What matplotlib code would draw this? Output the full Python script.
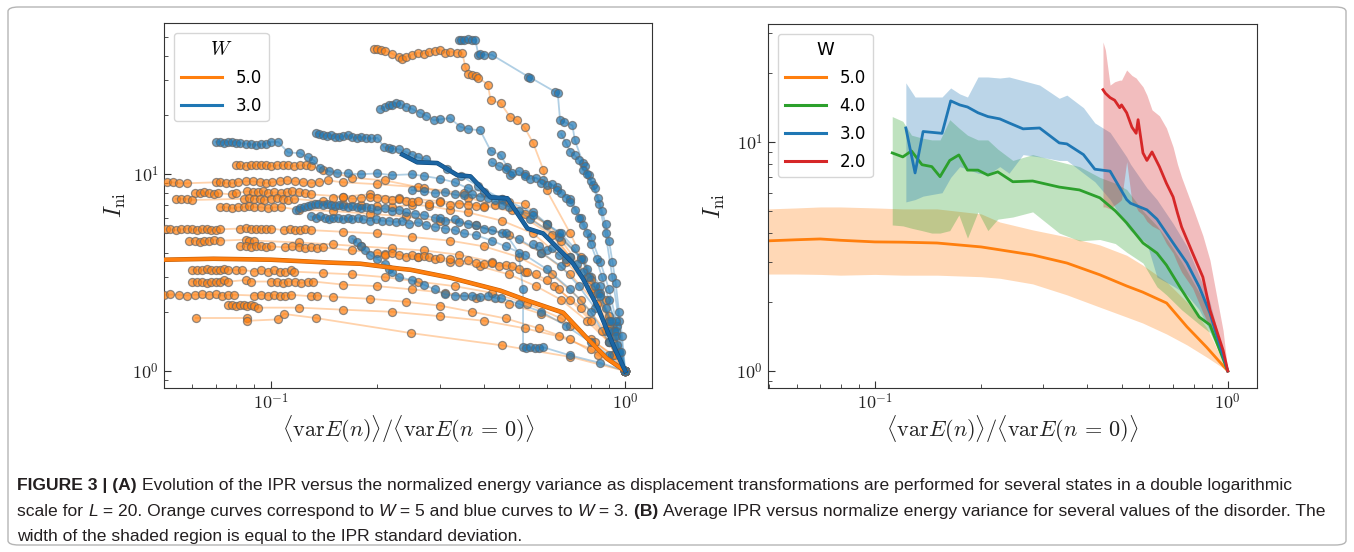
import numpy as np
import matplotlib
matplotlib.use("Agg")
import matplotlib.pyplot as plt
import matplotlib.patheffects as pe
from matplotlib import ticker, font_manager
from matplotlib.lines import Line2D
from matplotlib.patches import FancyBboxPatch
from matplotlib.transforms import IdentityTransform

plt.rcParams["mathtext.fontset"] = "cm"

# --- Panel (A): individual trajectories, W = 5 (orange) ---
w5_a = ([0.195, 0.20, 0.205, 0.21, 0.22, 0.23, 0.235, 0.24, 0.25, 0.26, 0.27, 0.28, 0.29, 0.30, 0.31, 0.32,
         0.335, 0.347, 0.354, 0.36, 0.37, 0.38, 0.385, 0.41, 0.417, 0.445, 0.474, 0.495, 0.52, 0.55, 0.588,
         0.60, 0.70, 0.80, 0.90, 1.0],
        [43.5, 43.5, 43, 42.5, 41, 39.5, 38.6, 39.5, 40.5, 41.5, 41, 42, 42.5, 43, 41.5, 42,
         41.5, 41.5, 35, 32.5, 32, 31.5, 31, 28.5, 23.8, 23, 19.5, 18.8, 17.3, 14.4, 10.5,
         8.3, 5.0, 3.0, 1.8, 1.0])
w5_b = ([0.051, 0.053, 0.055, 0.058, 0.070, 0.072, 0.075, 0.078, 0.081, 0.085, 0.089, 0.093, 0.097, 0.101,
         0.106, 0.111, 0.117, 0.123, 0.13, 0.137, 0.145, 0.16, 0.2, 0.26, 0.35, 0.46, 0.6, 0.75, 0.88, 1.0],
        [9.1, 9.1, 9.0, 9.0, 9.1, 9.1, 9.0, 9.0, 9.1, 9.2, 9.2, 9.1, 9.0, 9.1,
         9.2, 9.3, 9.2, 9.1, 9.0, 9.1, 9.3, 9.1, 8.9, 8.6, 8.0, 7.3, 5.6, 3.8, 2.3, 1.0])
w5_c = ([0.080, 0.082, 0.085, 0.088, 0.091, 0.094, 0.097, 0.100, 0.104, 0.108, 0.112, 0.116, 0.121, 0.126,
         0.130, 0.14, 0.17, 0.21, 0.27, 0.36, 0.48, 0.62, 0.78, 0.9, 1.0],
        [11.1, 11.1, 11.0, 11.1, 11.1, 11.2, 11.1, 11.0, 11.1, 11.1, 11.2, 11.0, 11.1, 11.1,
         11.0, 10.5, 9.6, 9.3, 8.5, 7.6, 6.6, 4.9, 3.0, 1.9, 1.0])
w5_d = ([0.061, 0.063, 0.065, 0.067, 0.069, 0.071, 0.078, 0.080, 0.086, 0.089, 0.092, 0.095, 0.098, 0.102,
         0.107, 0.111, 0.115, 0.12, 0.125, 0.13, 0.16, 0.19, 0.23, 0.3, 0.4, 0.52, 0.66, 0.8, 0.92, 1.0],
        [8.0, 8.0, 8.1, 8.0, 7.9, 8.0, 7.9, 8.0, 8.2, 8.1, 8.1, 8.2, 8.0, 8.1,
         8.0, 8.1, 8.2, 8.1, 8.0, 7.9, 7.7, 7.9, 7.6, 7.3, 6.9, 6.3, 4.6, 2.9, 1.7, 1.0])
w5_e = ([0.054, 0.056, 0.058, 0.060, 0.084, 0.087, 0.09, 0.093, 0.096, 0.1, 0.104, 0.108, 0.112, 0.116,
         0.14, 0.16, 0.18, 0.2, 0.22, 0.25, 0.28, 0.32, 0.36, 0.45, 0.55, 0.68, 0.82, 0.93, 1.0],
        [7.5, 7.5, 7.5, 7.4, 7.5, 7.6, 7.5, 7.5, 7.4, 7.5, 7.6, 7.5, 7.4, 7.5,
         7.3, 7.1, 7.0, 6.9, 6.8, 7.0, 6.9, 6.6, 6.4, 5.8, 5.0, 3.6, 2.5, 1.6, 1.0])
w5_f = ([0.072, 0.075, 0.078, 0.081, 0.084, 0.087, 0.09, 0.094, 0.098, 0.102, 0.107, 0.12, 0.15, 0.19,
         0.24, 0.3, 0.38, 0.47, 0.58, 0.7, 0.83, 0.93, 1.0],
        [6.8, 6.8, 6.7, 6.8, 6.8, 6.9, 6.8, 6.8, 6.7, 6.8, 6.8, 6.6, 6.5, 6.3,
         6.1, 5.8, 5.5, 4.9, 4.0, 3.1, 2.2, 1.5, 1.0])
w5_g = ([0.0505, 0.052, 0.054, 0.056, 0.058, 0.06, 0.062, 0.064, 0.066, 0.068, 0.070, 0.072, 0.082, 0.085,
         0.088, 0.091, 0.094, 0.097, 0.1, 0.109, 0.113, 0.117, 0.121, 0.125, 0.13, 0.16, 0.2, 0.25, 0.32,
         0.4, 0.5, 0.62, 0.75, 0.88, 1.0],
        [5.25, 5.25, 5.2, 5.25, 5.3, 5.25, 5.2, 5.25, 5.25, 5.2, 5.2, 5.25, 5.3, 5.35,
         5.3, 5.3, 5.25, 5.3, 5.3, 5.2, 5.25, 5.2, 5.2, 5.25, 5.2, 5.1, 5.0, 4.8, 4.6,
         4.3, 3.8, 3.1, 2.3, 1.6, 1.0])
w5_h = ([0.059, 0.061, 0.063, 0.065, 0.067, 0.069, 0.072, 0.085, 0.087, 0.09, 0.12, 0.15, 0.18, 0.22,
         0.27, 0.34, 0.42, 0.52, 0.63, 0.75, 0.86, 1.0],
        [4.6, 4.6, 4.55, 4.6, 4.6, 4.65, 4.6, 4.65, 4.6, 4.6, 4.5, 4.4, 4.3, 4.2,
         4.1, 3.9, 3.6, 3.2, 2.7, 2.1, 1.6, 1.0])
w5_i = ([0.082, 0.085, 0.088, 0.091, 0.094, 0.097, 0.1, 0.11, 0.115, 0.12, 0.125, 0.13, 0.135, 0.14,
         0.17, 0.21, 0.26, 0.32, 0.39, 0.47, 0.56, 0.66, 0.78, 0.9, 1.0],
        [4.3, 4.3, 4.25, 4.3, 4.3, 4.25, 4.3, 4.25, 4.3, 4.25, 4.2, 4.25, 4.2, 4.25,
         4.1, 3.95, 3.8, 3.6, 3.4, 3.1, 2.7, 2.3, 1.8, 1.4, 1.0])
w5_j = ([0.060, 0.062, 0.064, 0.066, 0.068, 0.070, 0.072, 0.074, 0.076, 0.080, 0.083, 0.090, 0.094, 0.098,
         0.102, 0.106, 0.110, 0.114, 0.116, 0.14, 0.17, 0.21, 0.26, 0.33, 0.42, 0.53, 0.66, 0.8, 0.92, 1.0],
        [3.27, 3.27, 3.25, 3.3, 3.27, 3.25, 3.27, 3.3, 3.27, 3.25, 3.27, 3.2, 3.25, 3.2,
         3.25, 3.2, 3.2, 3.25, 3.2, 3.15, 3.1, 3.0, 2.85, 2.7, 2.5, 2.2, 1.85, 1.45, 1.2, 1.0])
w5_k = ([0.060, 0.062, 0.064, 0.066, 0.068, 0.070, 0.072, 0.074, 0.076, 0.085, 0.088, 0.100, 0.104, 0.108,
         0.112, 0.117, 0.122, 0.127, 0.132, 0.16, 0.2, 0.25, 0.31, 0.38, 0.47, 0.58, 0.7, 0.82, 0.93, 1.0],
        [2.85, 2.85, 2.85, 2.8, 2.85, 2.85, 2.85, 2.9, 2.85, 2.9, 2.85, 2.85, 2.85, 2.8,
         2.85, 2.85, 2.8, 2.85, 2.85, 2.75, 2.7, 2.6, 2.5, 2.35, 2.2, 1.95, 1.7, 1.4, 1.2, 1.0])
w5_l = ([0.050, 0.052, 0.055, 0.058, 0.061, 0.064, 0.067, 0.070, 0.073, 0.076, 0.079, 0.090, 0.094, 0.098,
         0.102, 0.106, 0.110, 0.114, 0.130, 0.135, 0.15, 0.19, 0.24, 0.3, 0.37, 0.46, 0.57, 0.7, 0.84, 1.0],
        [2.44, 2.45, 2.44, 2.42, 2.44, 2.45, 2.44, 2.45, 2.42, 2.44, 2.44, 2.42, 2.44, 2.42,
         2.44, 2.42, 2.42, 2.44, 2.4, 2.42, 2.38, 2.33, 2.25, 2.15, 2.0, 1.85, 1.65, 1.45, 1.2, 1.0])
w5_m = ([0.076, 0.078, 0.080, 0.082, 0.084, 0.086, 0.088, 0.090, 0.092, 0.12, 0.16, 0.22, 0.3, 0.4, 0.52,
         0.65, 0.8, 1.0],
        [2.17, 2.17, 2.15, 2.17, 2.17, 2.15, 2.17, 2.15, 2.1, 2.1, 2.05, 2.0, 1.9, 1.8, 1.65,
         1.5, 1.3, 1.0])
w5_n = ([0.0615, 0.0856, 0.0856, 0.105, 0.109, 0.134, 0.248, 0.45, 0.7, 1.0],
        [1.86, 1.86, 1.8, 1.83, 1.95, 1.86, 1.56, 1.35, 1.18, 1.0])
w5_o = ([0.15, 0.16, 0.17, 0.18, 0.19, 0.2, 0.21, 0.22, 0.23, 0.24, 0.25, 0.26, 0.28, 0.3, 0.32, 0.34,
         0.36, 0.38, 0.4, 0.43, 0.47, 0.52, 0.6, 0.7, 0.8, 0.9, 1.0],
        [7.6, 7.7, 7.5, 7.6, 7.7, 7.6, 7.5, 7.4, 7.5, 7.3, 7.2, 7.3, 7.1, 7.2, 7.0, 7.1,
         7.0, 6.9, 6.8, 7.0, 7.2, 7.1, 5.5, 3.8, 2.6, 1.7, 1.0])
w5_p = ([0.2, 0.21, 0.22, 0.23, 0.24, 0.25, 0.26, 0.27, 0.28, 0.29, 0.3, 0.32, 0.34, 0.36, 0.38, 0.4,
         0.42, 0.44, 0.46, 0.48, 0.5, 0.53, 0.56, 0.6, 0.65, 0.7, 0.8, 0.9, 1.0],
        [4.0, 3.9, 4.0, 3.9, 3.8, 3.9, 3.8, 3.85, 3.8, 3.7, 3.75, 3.7, 3.6, 3.65, 3.55, 3.5,
         3.55, 3.4, 3.45, 3.4, 3.3, 3.2, 3.1, 2.9, 2.6, 2.3, 1.8, 1.4, 1.0])
w5_runs = [w5_a, w5_b, w5_c, w5_d, w5_e, w5_f, w5_g, w5_h, w5_i, w5_j, w5_k, w5_l, w5_m, w5_n, w5_o, w5_p]

# --- Panel (A): individual trajectories, W = 3 (blue) ---
w3_a = ([0.339, 0.345, 0.352, 0.36, 0.37, 0.378, 0.385, 0.39, 0.40, 0.42, 0.533, 0.54, 0.635, 0.645, 0.655,
         0.67, 0.71, 0.72, 0.76, 0.77, 0.79, 0.81, 0.843, 0.88, 0.92, 0.96, 1.0],
        [48.2, 48.2, 48.2, 48.5, 48.2, 48.2, 40.5, 41, 40.5, 40.5, 31.3, 31, 26.2, 26, 18.8,
         18.5, 17.7, 15, 11.4, 11, 9.9, 8.8, 7.1, 5.0, 3.0, 1.8, 1.0])
w3_b = ([0.204, 0.21, 0.215, 0.22, 0.225, 0.232, 0.24, 0.25, 0.264, 0.275, 0.288, 0.30, 0.32, 0.343, 0.36,
         0.39, 0.417, 0.445, 0.465, 0.474, 0.52, 0.588, 0.64, 0.70, 0.75, 0.8, 0.85, 0.9, 0.95, 1.0],
        [21.5, 22, 22.5, 22.5, 23, 22.8, 22, 21.5, 20.5, 19.8, 18.8, 19, 19.3, 17.4, 17,
         16.7, 13.2, 12.5, 10.9, 9.9, 10, 9.3, 8.6, 7.5, 6.0, 4.8, 3.6, 2.6, 1.7, 1.0])
w3_c = ([0.134, 0.137, 0.14, 0.144, 0.148, 0.152, 0.156, 0.16, 0.165, 0.17, 0.175, 0.18, 0.186, 0.192, 0.2,
         0.209, 0.215, 0.22, 0.23, 0.24, 0.25, 0.26, 0.275, 0.315, 0.345, 0.385, 0.45, 0.54, 0.65, 0.76,
         0.85, 0.94, 1.0],
        [16.2, 16.0, 15.8, 15.6, 15.8, 15.5, 15.4, 15.6, 15.8, 15.4, 15.3, 15.5, 15.3, 15.2, 15.3,
         13.7, 13.6, 13.5, 13.4, 13.0, 12.6, 12.2, 11.9, 10.6, 9.8, 8.7, 7.45, 5.9, 4.8, 3.7,
         2.7, 1.8, 1.0])
w3_d = ([0.070, 0.072, 0.074, 0.076, 0.078, 0.080, 0.082, 0.085, 0.088, 0.091, 0.094, 0.097, 0.100, 0.105,
         0.112, 0.121, 0.127, 0.132, 0.138, 0.146, 0.154, 0.165, 0.18, 0.2, 0.22, 0.25, 0.27, 0.3, 0.33,
         0.36, 0.4, 0.45, 0.55, 0.65, 0.75, 0.85, 0.93, 1.0],
        [14.6, 14.6, 14.5, 14.6, 14.6, 14.5, 14.4, 14.3, 14.2, 14.1, 14.2, 14.3, 14.6, 14.6,
         12.9, 12.8, 12.2, 11.8, 10.8, 10.4, 10.2, 10.1, 10.0, 10.1, 9.9, 10.0, 9.8, 9.5, 9.1,
         8.5, 8.1, 7.5, 6.4, 5.0, 3.7, 2.5, 1.6, 1.0])
w3_e = ([0.118, 0.121, 0.124, 0.127, 0.13, 0.133, 0.136, 0.14, 0.144, 0.148, 0.152, 0.156, 0.16, 0.165,
         0.17, 0.175, 0.18, 0.186, 0.192, 0.2, 0.21, 0.22, 0.23, 0.24, 0.255, 0.27, 0.29, 0.31, 0.33,
         0.36, 0.4, 0.45, 0.5, 0.58, 0.66, 0.74, 0.82, 0.9, 0.96, 1.0],
        [6.6, 6.7, 6.8, 6.9, 7.0, 7.1, 7.1, 7.0, 7.1, 7.0, 6.9, 7.0, 6.9, 6.8,
         6.9, 6.8, 6.7, 6.8, 6.7, 6.6, 6.7, 6.5, 6.6, 6.4, 6.3, 6.2, 6.0, 5.8, 5.9,
         5.6, 5.3, 5.0, 4.7, 4.0, 3.4, 2.7, 2.1, 1.6, 1.25, 1.0])
w3_f = ([0.13, 0.134, 0.138, 0.142, 0.146, 0.15, 0.155, 0.16, 0.165, 0.17, 0.176, 0.182, 0.19, 0.198,
         0.206, 0.215, 0.225, 0.235, 0.245, 0.26, 0.275, 0.29, 0.31, 0.33, 0.35, 0.38, 0.42, 0.46, 0.52,
         0.6, 0.7, 0.8, 0.9, 1.0],
        [6.1, 6.0, 6.1, 6.0, 5.9, 6.0, 6.0, 5.9, 6.0, 5.9, 6.0, 5.9, 5.8, 5.9,
         5.8, 5.8, 5.7, 5.8, 5.6, 5.7, 5.5, 5.4, 5.3, 5.2, 5.0, 4.9, 4.6, 4.3, 3.9,
         3.3, 2.6, 2.0, 1.4, 1.0])
w3_g = ([0.17, 0.175, 0.18, 0.185, 0.19, 0.2, 0.21, 0.215, 0.22, 0.23, 0.25, 0.27, 0.29, 0.31, 0.33,
         0.35, 0.37, 0.39, 0.41, 0.43, 0.445, 0.5, 0.58, 0.68, 0.8, 0.9, 1.0],
        [4.7, 4.5, 4.3, 4.1, 3.9, 3.7, 3.5, 3.3, 3.2, 3.0, 2.9, 2.75, 2.6, 2.45, 2.42,
         2.4, 2.42, 2.38, 2.4, 2.35, 2.35, 2.2, 2.0, 1.7, 1.4, 1.2, 1.0])
w3_h = ([0.3, 0.34, 0.38, 0.42, 0.46, 0.5, 0.515, 0.515, 0.525, 0.54, 0.555, 0.57, 0.588, 0.7, 0.85, 1.0],
        [6.0, 5.7, 5.5, 5.2, 5.0, 4.0, 2.6, 1.32, 1.31, 1.32, 1.31, 1.31, 1.32, 1.2, 1.1, 1.0])
w3_j = ([0.25, 0.27, 0.29, 0.31, 0.33, 0.35, 0.37, 0.39, 0.41, 0.43, 0.45, 0.47, 0.5, 0.55, 0.6, 0.66,
         0.72, 0.78, 0.84, 0.9, 0.95, 1.0],
        [8.3, 8.2, 8.0, 8.1, 7.9, 7.8, 7.9, 7.7, 7.6, 7.4, 7.0, 6.8, 6.5, 6.2, 5.6, 5.0,
         4.2, 3.3, 2.5, 1.8, 1.35, 1.0])
w3_k = ([0.42, 0.44, 0.46, 0.48, 0.5, 0.52, 0.54, 0.56, 0.58, 0.6, 0.62, 0.64, 0.66, 0.68, 0.7, 0.72,
         0.74, 0.76, 0.78, 0.8, 0.83, 0.86, 0.9, 0.94, 1.0],
        [11.5, 11.0, 10.6, 10.2, 10.4, 9.8, 9.5, 9.6, 9.0, 8.8, 8.9, 8.3, 8.0, 7.6, 7.2, 6.6,
         6.0, 5.5, 5.0, 4.4, 3.7, 3.0, 2.3, 1.6, 1.0])
w3_l = ([0.55, 0.57, 0.6, 0.62, 0.65, 0.68, 0.7, 0.73, 0.76, 0.79, 0.82, 0.85, 0.88, 0.91, 0.94, 0.97, 1.0],
        [4.4, 4.3, 4.1, 4.2, 3.9, 3.7, 3.8, 3.5, 3.2, 3.0, 2.7, 2.4, 2.1, 1.8, 1.5, 1.25, 1.0])
w3_m = ([0.66, 0.68, 0.7, 0.72, 0.74, 0.76, 0.78, 0.8, 0.82, 0.84, 0.86, 0.88, 0.9, 0.92, 0.94, 0.96,
         0.98, 1.0],
        [16, 14.5, 13, 12.5, 11.8, 10.5, 10, 9.2, 8.5, 7.6, 6.5, 5.6, 4.6, 3.6, 2.8, 2.0, 1.5, 1.0])
w3_runs = [w3_a, w3_b, w3_c, w3_d, w3_e, w3_f, w3_g, w3_h, w3_j, w3_k, w3_l, w3_m]

# --- Panel (A): averaged curves ---
w5_mean_x = [0.0506, 0.069, 0.1, 0.145, 0.179, 0.232, 0.248, 0.321, 0.445, 0.53, 0.668, 0.78, 0.887, 1.0]
w5_mean_y = [3.68, 3.72, 3.68, 3.56, 3.51, 3.31, 3.27, 2.98, 2.56, 2.28, 1.98, 1.47, 1.16, 1.0]
w3_mean_x = [0.235, 0.259, 0.295, 0.336, 0.366, 0.417, 0.465, 0.49, 0.53, 0.587, 0.71, 0.76, 0.838, 0.89, 0.94, 1.0]
w3_mean_y = [12.6, 11.5, 11.4, 9.9, 9.75, 7.63, 7.55, 6.55, 5.3, 5.0, 3.55, 2.95, 2.1, 1.6, 1.27, 1.0]

# --- Panel (B): average IPR with +/- std band ---
x_w5 = [0.05, 0.06, 0.07, 0.08, 0.1, 0.12, 0.15, 0.2, 0.226, 0.28, 0.35, 0.434, 0.517, 0.574, 0.671, 0.766, 0.871, 1.0]
ipr_w5 = [3.70, 3.74, 3.77, 3.72, 3.66, 3.65, 3.62, 3.48, 3.38, 3.21, 2.96, 2.63, 2.35, 2.21, 1.98, 1.56, 1.27, 1.0]
hi_w5 = [5.1, 5.15, 5.2, 5.2, 5.15, 5.1, 5.1, 4.85, 4.47, 4.13, 3.85, 3.55, 3.2, 2.9, 2.45, 2.0, 1.55, 1.0]
lo_w5 = [2.65, 2.65, 2.64, 2.62, 2.64, 2.62, 2.62, 2.58, 2.54, 2.4, 2.15, 1.9, 1.72, 1.62, 1.45, 1.3, 1.15, 1.0]

x_w4 = [0.112, 0.120, 0.127, 0.136, 0.145, 0.153, 0.163, 0.173, 0.183, 0.196, 0.209, 0.223, 0.246, 0.28,
        0.333, 0.38, 0.434, 0.48, 0.517, 0.575, 0.63, 0.67, 0.74, 0.83, 0.89, 1.0]
ipr_w4 = [8.95, 8.6, 9.13, 7.95, 7.8, 7.05, 8.3, 8.77, 7.53, 7.53, 7.16, 7.4, 6.7, 6.75,
          6.35, 6.17, 5.7, 5.0, 4.43, 3.62, 3.27, 2.9, 2.26, 1.72, 1.59, 1.0]
hi_w4 = [12.9, 12.3, 10.7, 10.4, 10.2, 10.2, 12.5, 11.5, 10.7, 10.2, 10.2, 9.3, 8.3, 8.8,
         8.2, 7.8, 7.0, 6.6, 6.2, 5.0, 4.3, 3.8, 3.0, 2.2, 1.8, 1.0]
lo_w4 = [4.34, 4.3, 4.2, 4.1, 4.0, 4.0, 4.1, 4.8, 3.8, 4.95, 4.1, 4.6, 4.7, 4.95,
         4.0, 3.7, 3.75, 3.6, 3.3, 2.96, 2.33, 2.15, 1.85, 1.6, 1.47, 1.0]

x_w3 = [0.1224, 0.13, 0.137, 0.155, 0.164, 0.174, 0.183, 0.196, 0.209, 0.226, 0.24, 0.263, 0.293, 0.333,
        0.35, 0.39, 0.42, 0.464, 0.517, 0.53, 0.59, 0.63, 0.70, 0.766, 0.83, 0.89, 1.0]
ipr_w3 = [11.5, 7.32, 11.1, 10.9, 15.1, 14.5, 14.2, 13.4, 12.9, 12.6, 12.1, 11.4, 11.5, 9.9,
          9.8, 8.8, 7.6, 7.45, 5.6, 5.4, 5.05, 4.6, 3.62, 2.96, 2.33, 1.79, 1.0]
hi_w3 = [18.1, 15.7, 15.7, 15.7, 17.2, 16.2, 15.7, 19.2, 19.2, 19.0, 19.2, 18.5, 17.7, 15.5,
         16.0, 14.1, 12.1, 11.0, 8.6, 8.0, 6.3, 5.6, 4.4, 3.5, 2.6, 2.0, 1.0]
lo_w3 = [5.47, 5.6, 5.8, 6.0, 7.0, 7.8, 7.6, 7.3, 7.2, 7.8, 7.3, 8.8, 8.6, 8.3,
         8.3, 7.3, 6.7, 5.6, 4.3, 4.1, 3.6, 2.57, 2.35, 2.15, 1.85, 1.5, 1.0]

x_w2 = [0.443, 0.45, 0.464, 0.478, 0.494, 0.50, 0.517, 0.535, 0.55, 0.557, 0.575, 0.59, 0.61, 0.64, 0.67,
        0.70, 0.72, 0.74, 0.795, 0.85, 0.89, 0.97, 1.0]
ipr_w2 = [16.9, 16.3, 15.6, 15.2, 14.1, 14.5, 13.4, 11.6, 10.9, 12.5, 8.95, 8.3, 9.04, 7.8, 6.6,
          5.75, 4.9, 4.25, 3.27, 2.57, 1.85, 1.23, 1.0]
hi_w2 = [27.3, 25.2, 17.7, 18.3, 18.6, 18.6, 20.6, 19.5, 19.0, 18.5, 17.4, 16.0, 13.8, 13.0, 11.5,
         9.5, 8.0, 7.0, 5.2, 3.9, 3.05, 1.5, 1.0]
lo_w2 = [5.2, 5.2, 5.1, 5.3, 5.5, 5.6, 8.2, 5.5, 5.2, 5.0, 4.8, 4.5, 4.3, 4.13, 3.6,
         3.27, 2.95, 2.7, 2.3, 1.8, 1.55, 1.15, 1.0]

legend_a = ["5.0", "3.0"]
legend_b = ["5.0", "4.0", "3.0", "2.0"]

C_OR = "#ff7f0e"
C_GR = "#2ca02c"
C_BL = "#1f77b4"
C_RD = "#d62728"

W, H = 1354, 552
fig = plt.figure(figsize=(W / 100, H / 100), dpi=100)

# outer frame around figure + caption
fig.patches.append(FancyBboxPatch((8 / W, 7 / H), 1338 / W, 538 / H, boxstyle="round,pad=0,rounding_size=0.008",
                                  transform=fig.transFigure, fill=False, edgecolor="#b5b5b5", lw=1.0))

axL = fig.add_axes([164 / W, 164 / H, 488 / W, 365 / H])
axR = fig.add_axes([768 / W, 164 / H, 489 / W, 364 / H])

for x, y in w5_runs:
    axL.plot(x, y, color=C_OR, lw=1.3, alpha=0.35, zorder=2)
    axL.plot(x, y, "o", ms=5.8, mfc=C_OR, mec="#666666", mew=0.9, alpha=0.7, zorder=3)
for x, y in w3_runs:
    axL.plot(x, y, color=C_BL, lw=1.3, alpha=0.35, zorder=4)
    axL.plot(x, y, "o", ms=5.8, mfc=C_BL, mec="#666666", mew=0.9, alpha=0.7, zorder=5)

axL.plot(w5_mean_x, w5_mean_y, color=C_OR, lw=2.4, zorder=6,
         path_effects=[pe.Stroke(linewidth=3.3, foreground="#c45e08"), pe.Normal()])
axL.plot(w3_mean_x, w3_mean_y, color="#1b65a3", lw=2.4, zorder=6,
         path_effects=[pe.Stroke(linewidth=3.3, foreground="#124a7a"), pe.Normal()])

axL.set_xlim(0.05, 1.19)
axL.set_ylim(0.82, 58.7)

for x, mid, hi, lo, c in [(x_w5, ipr_w5, hi_w5, lo_w5, C_OR), (x_w4, ipr_w4, hi_w4, lo_w4, C_GR),
                          (x_w3, ipr_w3, hi_w3, lo_w3, C_BL), (x_w2, ipr_w2, hi_w2, lo_w2, C_RD)]:
    axR.fill_between(x, lo, hi, color=c, alpha=0.3, lw=0)
    axR.plot(x, mid, color=c, lw=2.0)

axR.set_xlim(0.0498, 1.21)
axR.set_ylim(0.843, 32.7)

for ax in (axL, axR):
    ax.set_xscale("log")
    ax.set_yscale("log")
    for s in ax.spines.values():
        s.set_color("#333333")
    ax.tick_params(which="both", direction="in", top=False, right=False, colors="#333333", labelsize=13,
                   labelcolor="#222222")
    ax.tick_params(which="major", length=5)
    ax.tick_params(which="minor", length=3)
    fmt = ticker.FuncFormatter(lambda v, p: r"$10^{%d}$" % int(round(np.log10(v))))
    ax.xaxis.set_major_formatter(fmt)
    ax.yaxis.set_major_formatter(fmt)
    ax.xaxis.set_minor_formatter(ticker.NullFormatter())
    ax.yaxis.set_minor_formatter(ticker.NullFormatter())
    ax.set_xlabel(r"$\langle \mathrm{var}E(n)\rangle/\langle \mathrm{var}E(n\,=\,0)\rangle$", fontsize=16,
                  color="#222222")
    ax.set_ylabel(r"$I_{\rm ni}$", fontsize=17, color="#222222")
    ax.xaxis.set_label_coords(0.5, -0.07)

axL.yaxis.set_label_coords(-0.074, 0.5)
axR.yaxis.set_label_coords(-0.084, 0.5)

hA = [Line2D([], [], color=c, lw=2.2) for c in (C_OR, C_BL)]
axL.legend(hA, legend_a, title=r"$W$", loc="upper left", fontsize=12, title_fontsize=14,
           handlelength=2.5, borderaxespad=0.6, labelspacing=0.6)
hB = [Line2D([], [], color=c, lw=2.2) for c in (C_OR, C_GR, C_BL, C_RD)]
axR.legend(hB, legend_b, title="W", loc="upper left", fontsize=12, title_fontsize=13,
           handlelength=2.5, borderaxespad=0.6, labelspacing=0.6)


# --- caption with mixed bold / italic pieces ---
def has_font(name):
    try:
        font_manager.findfont(name, fallback_to_default=False)
        return True
    except ValueError:
        return False


cap_family = "Liberation Sans Narrow" if has_font("Liberation Sans Narrow") else "Liberation Sans"

cap_lines = [
    [("FIGURE 3 | (A) ", "bold", "normal"),
     ("Evolution of the IPR versus the normalized energy variance as displacement transformations are "
      "performed for several states in a double logarithmic", "normal", "normal")],
    [("scale for ", "normal", "normal"), ("L", "normal", "italic"),
     (" = 20. Orange curves correspond to ", "normal", "normal"), ("W", "normal", "italic"),
     (" = 5 and blue curves to ", "normal", "normal"), ("W", "normal", "italic"),
     (" = 3. ", "normal", "normal"), ("(B) ", "bold", "normal"),
     ("Average IPR versus normalize energy variance for several values of the disorder. The", "normal", "normal")],
    [("width of the shaded region is equal to the IPR standard deviation.", "normal", "normal")],
]
cap_base = [62, 36, 11]

renderer = fig.canvas.get_renderer()


def draw_line(parts, x0, y0, size):
    texts = []
    x = x0
    for s, wt, st in parts:
        t = fig.text(x, y0, s, transform=IdentityTransform(), fontsize=size, family=cap_family,
                     weight=wt, style=st, color="#231f20", va="baseline")
        x += t.get_window_extent(renderer).width
        texts.append(t)
    return texts, x - x0


trial, wid = draw_line(cap_lines[1], 17, cap_base[1], 10)
for t in trial:
    t.remove()
cap_size = 10 * 1311 / wid
for parts, yb in zip(cap_lines, cap_base):
    draw_line(parts, 17, yb, cap_size)

fig.savefig("out.png", dpi=100)
